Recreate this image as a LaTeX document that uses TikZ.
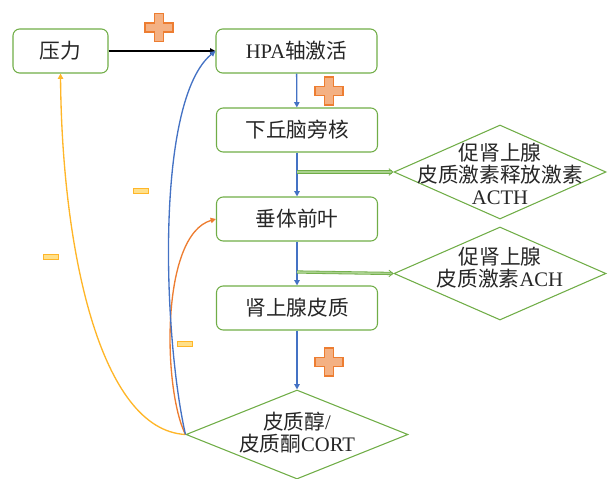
\documentclass[tikz,border=0pt]{standalone}
\usepackage{fontspec}
\setmainfont{Liberation Serif}
\newfontfamily\cjk{Noto Sans CJK SC}
\usetikzlibrary{shapes.geometric,arrows.meta}
\definecolor{boxgreen}{HTML}{70AD47}
\definecolor{lgreen}{HTML}{A9D18E}
\definecolor{oblue}{HTML}{4472C4}
\definecolor{oorange}{HTML}{ED7D31}
\definecolor{lorange}{HTML}{F4B183}
\definecolor{ogold}{HTML}{FFB628}
\definecolor{lgold}{HTML}{FFE08A}
\definecolor{txt}{HTML}{262626}
\tikzset{
  box/.style={draw=boxgreen, line width=0.8pt, rounded corners=5pt, minimum height=33pt,
    font=\fontsize{15.5}{17}\selectfont, text=txt},
  diam/.style={draw=boxgreen, line width=0.8pt, diamond, inner sep=0pt},
  dtext/.style={align=center, font=\fontsize{15.5}{16.5}\selectfont, text=txt, inner sep=0pt},
  barrow/.style={draw=oblue, line width=1pt, -{Triangle[length=4pt,width=4pt]}},
  garrow/.style={draw=boxgreen, double=lgreen, double distance=1.2pt, line width=0.6pt, -{Straight Barb[length=3pt,width=5pt]}},
  pics/plussign/.style={code={
    \draw[draw=oorange, fill=lorange, line width=1.2pt]
      (-4.5,-14) -- (4.5,-14) -- (4.5,-4.5) -- (14,-4.5) -- (14,4.5) -- (4.5,4.5) -- (4.5,14)
      -- (-4.5,14) -- (-4.5,4.5) -- (-14,4.5) -- (-14,-4.5) -- (-4.5,-4.5) -- cycle;}},
  pics/minussign/.style={code={
    \draw[draw=ogold, fill=lgold, line width=0.9pt] (-7.5,-2.8) rectangle (7.5,2.8);}}
}
\begin{document}
\begin{tikzpicture}[x=0.75pt,y=-0.75pt]
\useasboundingbox (0,0) rectangle (608,479);
\node[box, minimum width=71.25pt] (yl) at (60.5,51) {\cjk 压力};
\node[box, minimum width=120.75pt] (hpa) at (296.5,51) {HPA{\cjk 轴激活}};
\node[box, minimum width=120.75pt] (xq) at (297,130) {\cjk 下丘脑旁核};
\node[box, minimum width=120.75pt] (ct) at (297,219) {\cjk 垂体前叶};
\node[box, minimum width=120.75pt] (sx) at (297,308) {\cjk 肾上腺皮质};
\node[diam, minimum width=159pt, minimum height=70.5pt] (acth) at (500,172) {};
\node[dtext] (acthtxt) at (500,174) {{\cjk 促肾上腺}\\{\cjk 皮质激素释放激素}\\ACTH};
\node[diam, minimum width=159pt, minimum height=69.75pt] (ach) at (500,273.5) {};
\node[dtext] (achtxt) at (500,268) {{\cjk 促肾上腺}\\{\cjk 皮质激素}ACH};
\node[diam, minimum width=166.5pt, minimum height=66.75pt] (cort) at (297,434.5) {};
\node[dtext] (corttxt) at (297,433) {{\cjk 皮质醇}/\\{\cjk 皮质酮}CORT};
\coordinate (b1) at (297,172);
\coordinate (b2) at (297,272);
\draw[line width=1pt, -{Triangle[length=4pt,width=4pt]}] (yl) -- (hpa);
\draw[barrow] (hpa) -- (xq);
\draw[barrow] (xq) -- (ct);
\draw[barrow] (ct) -- (sx);
\draw[barrow] (sx) -- (cort.north);
\draw[garrow] (b1) -- (acth.west);
\draw[garrow] (b2) -- (ach.west);
\draw[draw=ogold, line width=1pt, -{Triangle[length=4pt,width=4pt]}]
  (cort.west) .. controls (100,430) and (62,250) .. (yl.south);
\draw[draw=oorange, line width=1pt, -{Triangle[length=4pt,width=4pt]}]
  (cort.west) .. controls (163,390) and (160,235) .. (ct.west);
\draw[draw=oblue, line width=1pt, -{Triangle[length=4pt,width=4pt]}]
  (cort.west) .. controls (163,335) and (155,100) .. (hpa.west);
\pic at (159,27.5) {plussign};
\pic at (329,91) {plussign};
\pic at (329,362) {plussign};
\pic at (141,191) {minussign};
\pic at (51,257) {minussign};
\pic at (185,344) {minussign};
\end{tikzpicture}
\end{document}
